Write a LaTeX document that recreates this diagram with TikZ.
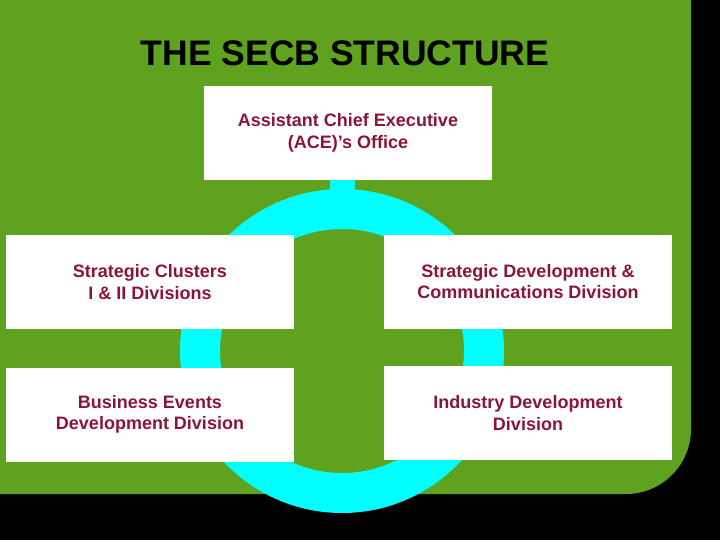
\documentclass[tikz,border=0pt]{standalone}
\usepackage{fontspec}
\setmainfont{Liberation Sans}
\usetikzlibrary{positioning}
\definecolor{cGreen}{HTML}{5FA21F}
\definecolor{cRing}{HTML}{00FFFF}
\definecolor{cText}{HTML}{8B1538}

\begin{document}
\begin{tikzpicture}[
      x=1pt, y=-1pt,
      divbox/.style={fill=white, minimum width=288pt, minimum height=94pt, inner sep=0pt, align=center,
        text=cText, font=\bfseries\fontsize{18}{21.5}\selectfont},
      ringshape/.style={circle, draw=cRing, line width=40pt, minimum size=284pt, inner sep=0pt},
      stem/.style={draw=cRing, line width=25pt}
    ]
      % background
      \useasboundingbox (0,0) rectangle (720,540);
      \fill[black] (0,0) rectangle (720,540);
      \clip (0,0) rectangle (720,540);
      \fill[cGreen, rounded corners=65pt] (-100,-100) rectangle (691,494);

      \node[font=\bfseries\fontsize{35.5}{40}\selectfont] (title) at (345,53) {THE SECB STRUCTURE};

      \node[ringshape] (ring) at (342,351) {};
      \node[divbox] (ace) at (348,133) {Assistant Chief Executive\\(ACE)'s Office};
      \draw[stem] (ace.south -| ring.north) -- ([yshift=-4pt]ring.north);

      \node[divbox] (clusters) at (150,282) {Strategic Clusters\\I \& II Divisions};
      \node[divbox] (stratdev) at (528,281.5) {Strategic Development \&\\Communications Division};
      \node[divbox] (events) at (150,414.5) {Business Events\\Development Division};
      \node[divbox] (industry) at (528,413) {Industry Development\\Division};
    \end{tikzpicture}
\end{document}
